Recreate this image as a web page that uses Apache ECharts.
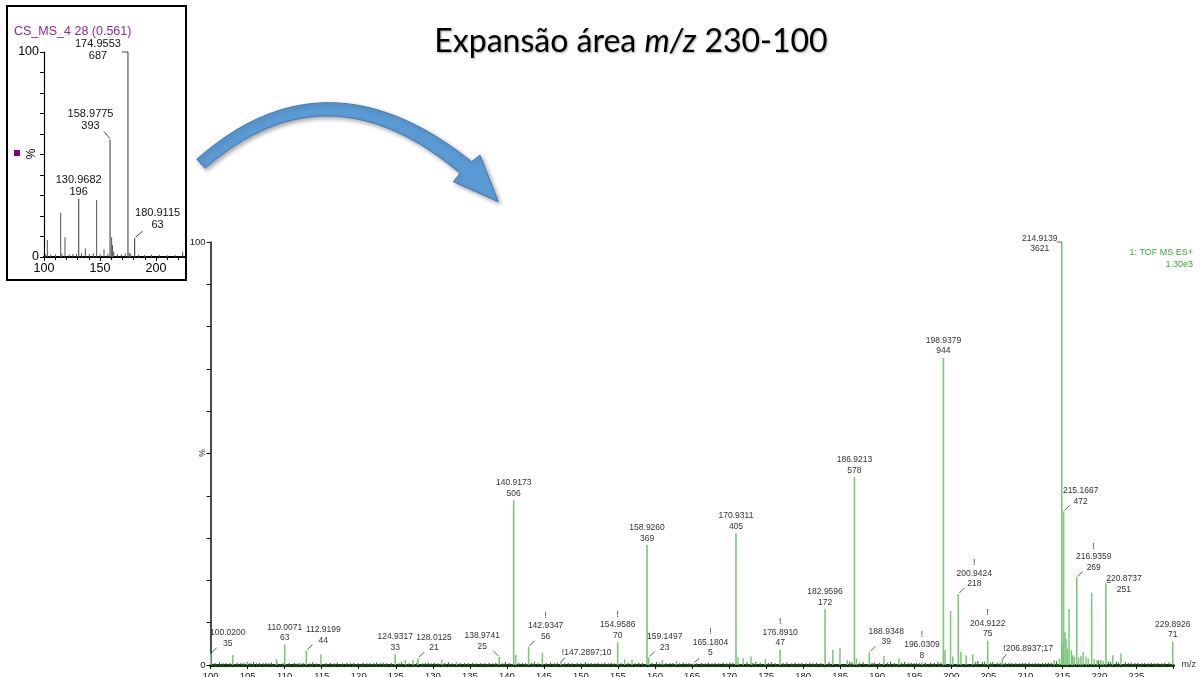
<!DOCTYPE html>
<html>
<head>
<meta charset="utf-8">
<script src="https://cdn.jsdelivr.net/npm/echarts@6/dist/echarts.min.js"></script>
<style>
  html, body { margin: 0; padding: 0; background: #fff; }
  #chart { width: 1200px; height: 677px; }
</style>
</head>
<body>
<div id="chart"></div>
<script>
// ---------- Expanded spectrum (m/z 100-230), intensities in counts ----------
const mainFullScale = 1300; // "1.30e3" = 100 %
const mainPeakMz = ['100.0200', '110.0071', '112.9199', '124.9317', '128.0125', '138.9741',
  '140.9173', '142.9347', '147.2897', '154.9586', '158.9260', '159.1497', '165.1804',
  '170.9311', '176.8910', '182.9596', '186.9213', '188.9348', '196.0309', '198.9379',
  '200.9424', '204.9122', '206.8937', '214.9139', '215.1667', '216.9359', '220.8737', '229.8926'];
const mainPeakIntensity = [35, 63, 44, 33, 21, 25, 506, 56, 10, 70, 369, 23, 5,
  405, 47, 172, 578, 39, 8, 944, 218, 75, 17, 3621, 472, 269, 251, 71];
const mainFlagged = ['142.9347', '154.9586', '165.1804', '176.8910', '196.0309',
  '200.9424', '204.9122', '216.9359'];

// unlabelled peaks of the expanded spectrum
const mainMinorMz = [103.0, 104.96, 108.9, 112.1, 114.9, 126.3, 127.3, 131.2, 133.2,
  141.2, 144.8, 155.9, 156.9, 161.0, 162.9, 171.2, 171.9, 172.96, 174.9,
  184.0, 184.97, 185.96, 187.2, 190.9, 192.94, 199.15, 199.9, 200.2, 201.3, 202.0, 202.9,
  213.9, 214.6, 215.05, 215.35, 215.5, 215.7, 215.9, 216.2, 216.4, 216.6, 217.2, 217.5,
  217.8, 218.2, 218.5, 218.95, 219.3, 219.7, 220.2, 220.5, 221.8, 222.9];
const mainMinorIntensity = [31, 10, 18, 8, 33, 15, 15, 16, 10,
  31, 38, 18, 16, 15, 12, 24, 21, 26, 18,
  46, 52, 15, 20, 28, 20, 46, 166, 26, 40, 30, 33,
  15, 20, 60, 102, 80, 50, 172, 45, 30, 25, 22, 28,
  40, 25, 20, 222, 18, 15, 15, 12, 30, 35];

// baseline grass of the expanded spectrum
const mainNoiseMz = [100.6, 101.2, 101.7, 102.1, 102.6, 103.6, 104.1, 104.5, 105.3, 105.8,
  106.2, 106.6, 107.1, 107.5, 107.9, 108.2, 109.0, 109.8, 110.6, 111.3, 111.8, 112.5,
  113.4, 113.8, 114.3, 115.6, 116.2, 116.7, 117.1, 117.8, 118.4, 118.9, 119.3, 119.9,
  120.6, 121.1, 121.5, 122.0, 122.4, 122.9, 123.3, 123.8, 124.4, 125.4, 125.8, 126.8,
  127.8, 128.6, 129.0, 129.4, 129.8, 130.2, 130.7, 131.6, 132.1, 132.6, 133.7, 134.3,
  134.8, 135.4, 135.9, 136.5, 137.0, 137.6, 138.1, 138.5, 139.4, 139.8, 140.3, 141.6,
  142.1, 142.5, 143.3, 143.7, 144.2, 145.3, 145.9, 146.4, 146.8, 147.8, 148.3, 148.8,
  149.5, 150.0, 150.6, 151.0, 151.4, 151.9, 152.3, 152.8, 153.2, 153.7, 154.1, 154.5,
  155.4, 156.4, 157.3, 157.8, 158.3, 159.6, 160.2, 160.6, 161.5, 162.0, 162.4, 163.3,
  163.8, 164.2, 164.6, 165.6, 166.3, 166.8, 167.2, 167.7, 168.1, 168.6, 169.2, 169.7,
  170.1, 170.5, 172.4, 173.2, 173.6, 174.2, 175.3, 175.7, 176.2, 177.3, 177.8, 178.4,
  178.9, 179.4, 179.8, 180.4, 180.9, 181.3, 181.8, 182.4, 183.5, 186.3, 186.6, 187.6,
  188.1, 189.3, 189.6, 190.3, 191.4, 191.8, 192.3, 193.3, 193.7, 194.2, 194.6, 195.0,
  195.3, 195.7, 196.5, 197.2, 197.7, 198.2, 198.6, 203.3, 203.6, 204.2, 204.5, 205.3,
  205.6, 206.2, 206.6, 207.3, 207.8, 208.2, 208.7, 209.2, 209.6, 210.0, 210.5, 211.0,
  211.4, 211.8, 212.3, 212.7, 213.1, 213.5, 214.2, 219.9, 221.2, 221.5, 222.3, 222.6,
  223.5, 223.9, 224.3, 224.8, 225.2, 225.7, 226.1, 226.6, 227.0, 227.5, 227.9, 228.4,
  228.8, 229.4];
const mainNoiseIntensity = [6, 8, 5, 6, 5, 6, 7, 5, 6, 9,
  5, 6, 5, 7, 5, 8, 6, 5, 6, 7, 5, 6,
  5, 9, 5, 6, 6, 5, 8, 5, 7, 5, 6, 5,
  7, 5, 6, 5, 8, 5, 7, 5, 6, 5, 9, 5,
  6, 5, 6, 8, 5, 7, 5, 6, 9, 5, 6, 6,
  5, 7, 5, 6, 5, 8, 5, 6, 5, 9, 6, 7,
  6, 5, 6, 10, 5, 6, 8, 5, 7, 5, 6, 5,
  7, 5, 9, 5, 6, 5, 7, 5, 8, 5, 7, 5,
  6, 6, 5, 8, 6, 7, 9, 5, 6, 5, 6, 5,
  8, 5, 6, 5, 7, 5, 8, 5, 6, 5, 7, 5,
  8, 6, 9, 6, 10, 7, 6, 9, 6, 6, 8, 5,
  7, 5, 6, 5, 8, 5, 7, 6, 9, 11, 8, 7,
  9, 6, 8, 6, 7, 10, 6, 7, 9, 6, 7, 5,
  6, 5, 7, 8, 6, 10, 7, 10, 12, 9, 10, 8,
  9, 8, 7, 6, 7, 6, 6, 5, 7, 6, 8, 5,
  6, 5, 7, 6, 8, 7, 12, 14, 11, 9, 10, 8,
  9, 7, 8, 6, 7, 5, 6, 5, 7, 5, 6, 5,
  6, 8];

const mainXTicks = { min: 100, max: 230, step: 5 };

// ---------- Survey spectrum "CS_MS_4 28 (0.561)" ----------
const insetFullScale = 687;
const insetPeakMz = ['130.9682', '158.9775', '174.9553', '180.9115'];
const insetPeakIntensity = [196, 393, 687, 63];
const insetMinorMz = [101.5, 103.0, 106.0, 110.2, 114.9, 116.0, 118.75, 122.5, 125.8,
  129.0, 133.5, 136.9, 140.5, 144.0, 147.0, 150.2, 153.6, 157.0, 160.4, 161.2, 162.3,
  165.5, 169.0, 172.5, 176.2, 177.5, 184.5, 190.0, 196.0, 203.0, 210.0, 217.0, 223.8];
const insetMinorIntensity = [10, 57, 8, 9, 148, 12, 66, 9, 10,
  11, 13, 29, 10, 12, 191, 9, 26, 11, 66, 40, 18,
  10, 9, 12, 14, 11, 8, 7, 8, 7, 6, 7, 18];

const FONT = '"Liberation Sans", Arial, Helvetica, sans-serif';
const MAIN_GREEN = '#7cc67c';
const GRASS_GREEN = '#2a7a2a';

// label placement around each peak top (offsets in px from the peak top)
const mainLabelLayout = {
  '100.0200': { dx: 17, dy: -5, leader: [1, -1, 6, -6] },
  '112.9199': { dx: 17, dy: -5, leader: [1, -1, 6, -6] },
  '128.0125': { dx: 16, dy: -5, leader: [1, -1, 6, -6] },
  '138.9741': { dx: -17, dy: -5, leader: [-1, -1, -6, -6] },
  '142.9347': { dx: 17, dy: -5, leader: [1, -1, 6, -6] },
  '147.2897': { inline: true, dx: 1, dy: -4, leader: [0, 0, 4, -4] },
  '159.1497': { dx: 16, dy: -5, leader: [1, -1, 6, -6] },
  '165.1804': { dx: 17, dy: -5, leader: [1, -1, 6, -5] },
  '188.9348': { dx: 17, dy: -5, leader: [1, -1, 6, -6] },
  '200.9424': { dx: 16, dy: -5, leader: [1, -1, 6, -6] },
  '206.8937': { inline: true, dx: 1, dy: -6, leader: [0, 0, 4, -5] },
  '214.9139': { dx: -22, dy: 12, leader: [-5, 0, 0, 0] },
  '215.1667': { dx: 17, dy: -5, leader: [1, -1, 6, -6] },
  '216.9359': { dx: 17, dy: -5, leader: [1, -1, 6, -6] },
  '220.8737': { dx: 18, dy: 11.5, leader: [1, -1, 5, -1] }
};
const insetLabelLayout = {
  '130.9682': { dx: 0, dy: -1 },
  '158.9775': { dx: -19.5, dy: -8, leader: [0, -1, -6, -8] },
  '174.9553': { dx: -30, dy: 10, leader: [-6, 0, 0, 0] },
  '180.9115': { dx: 23, dy: -7, leader: [1, -1, 8, -7] }
};

function stickRenderer(yMax, color, width) {
  return function (params, api) {
    const x = api.value(0);
    const a = api.coord([x, 0]);
    const b = api.coord([x, Math.min(api.value(1), yMax)]);
    return {
      type: 'line',
      shape: { x1: a[0], y1: a[1], x2: b[0], y2: b[1] },
      style: { stroke: color, lineWidth: width }
    };
  };
}

function labelRenderer(mzText, intensity, flagged, layout, yMax, txt) {
  return function (params, api) {
    const i = params.dataIndex;
    const key = mzText[i];
    const L = layout[key] || {};
    const p = api.coord([api.value(0), Math.min(api.value(1), yMax)]);
    const text = L.inline
      ? '!' + key + ';' + intensity[i]
      : (flagged.indexOf(key) >= 0 ? '!\n' : '') + key + '\n' + intensity[i];
    const children = [];
    if (L.leader) {
      children.push({
        type: 'line',
        shape: { x1: p[0] + L.leader[0], y1: p[1] + L.leader[1], x2: p[0] + L.leader[2], y2: p[1] + L.leader[3] },
        style: { stroke: txt.color, lineWidth: 0.8 }
      });
    }
    children.push({
      type: 'text',
      style: {
        text: text,
        x: p[0] + (L.dx || 0),
        y: p[1] + (L.dy == null ? -1.5 : L.dy),
        align: L.inline ? 'left' : 'center',
        verticalAlign: 'bottom',
        fill: txt.color,
        font: txt.size + 'px ' + FONT,
        lineHeight: txt.lh
      }
    });
    return { type: 'group', children: children };
  };
}

const pairs = (xs, ys) => xs.map((x, i) => [typeof x === 'string' ? parseFloat(x) : x, ys[i]]);

// curved arrow outline: two quadratic arcs joined by the arrow head
function quad(p0, c, p1, n) {
  const pts = [];
  for (let k = 0; k <= n; k++) {
    const t = k / n, u = 1 - t;
    pts.push([u * u * p0[0] + 2 * u * t * c[0] + t * t * p1[0], u * u * p0[1] + 2 * u * t * c[1] + t * t * p1[1]]);
  }
  return pts;
}
const arrowPoints = []
  .concat(quad([196.7, 159.3], [325.8, 44.9], [471.7, 161.7], 40))
  .concat([[480, 155], [498.3, 201.7], [453.3, 181.7]])
  .concat(quad([460, 173.3], [327.4, 61.2], [205, 168.3], 40));

const chart = echarts.init(document.getElementById('chart'), null, { renderer: 'canvas' });

chart.setOption({
  animation: false,
  backgroundColor: '#ffffff',
  grid: [
    { left: 210.6, right: 26.5, top: 242, bottom: 12, containLabel: false, outerBoundsMode: 'none' },
    { left: 44, right: 1014, top: 52, bottom: 420, containLabel: false, outerBoundsMode: 'none' }
  ],
  xAxis: [
    {
      gridIndex: 0, type: 'value', min: mainXTicks.min, max: mainXTicks.max, interval: mainXTicks.step,
      name: 'm/z', nameLocation: 'end', nameGap: 8,
      nameTextStyle: { fontFamily: FONT, fontSize: 9, color: '#333', verticalAlign: 'middle' },
      axisLine: { show: true, onZero: false, lineStyle: { color: '#173f17', width: 3 } },
      axisTick: { show: true, length: 4, lineStyle: { color: '#111' } },
      minorTick: { show: true, splitNumber: 5, length: 2, lineStyle: { color: '#111' } },
      splitLine: { show: false },
      axisLabel: { fontFamily: FONT, fontSize: 9.5, color: '#222', margin: 6,
        formatter: v => (v === mainXTicks.max ? '' : String(v)) }
    },
    {
      gridIndex: 1, type: 'value', min: 100, max: 226.8, interval: 50,
      axisLine: { show: true, onZero: false, lineStyle: { color: '#000', width: 2 } },
      axisTick: { show: true, length: 4, lineStyle: { color: '#000' } },
      minorTick: { show: true, splitNumber: 5, length: 3, lineStyle: { color: '#000' } },
      splitLine: { show: false },
      axisLabel: { fontFamily: FONT, fontSize: 12.5, color: '#000', margin: 5, showMaxLabel: false }
    }
  ],
  yAxis: [
    {
      gridIndex: 0, type: 'value', min: 0, max: mainFullScale, interval: mainFullScale / 10,
      axisLine: { show: true, lineStyle: { color: '#111', width: 1.5 } },
      axisTick: { show: true, length: 4, lineStyle: { color: '#111' } },
      splitLine: { show: false },
      axisLabel: { fontFamily: FONT, fontSize: 9.5, color: '#222', margin: 5,
        formatter: v => (v === 0 ? '0' : v === mainFullScale ? '100' : '') }
    },
    {
      gridIndex: 1, type: 'value', min: 0, max: insetFullScale, interval: insetFullScale / 10,
      axisLine: { show: true, lineStyle: { color: '#000', width: 1.2 } },
      axisTick: { show: true, length: 4, lineStyle: { color: '#000' } },
      splitLine: { show: false },
      axisLabel: { fontFamily: FONT, fontSize: 12.5, color: '#000', margin: 5,
        formatter: v => (v < 1 ? '0' : v > insetFullScale - 1 ? '100' : '') }
    }
  ],
  graphic: [
    // survey spectrum frame
    { type: 'rect', z: 0, shape: { x: 7, y: 6, width: 179, height: 274 },
      style: { fill: 'none', stroke: '#000', lineWidth: 2 } },
    { type: 'text', z: 5, style: { text: 'CS_MS_4 28 (0.561)', x: 14, y: 32, verticalAlign: 'middle',
      font: '12.5px ' + FONT, fill: '#8e2a8e' } },
    { type: 'rect', z: 5, shape: { x: 14, y: 150, width: 6, height: 6 }, style: { fill: '#800080' } },
    { type: 'text', z: 5, x: 32, y: 154, rotation: Math.PI / 2,
      style: { text: '%', x: 0, y: 0, align: 'center', verticalAlign: 'middle', font: '12px ' + FONT, fill: '#000' } },
    // intensity axis title of the expanded spectrum
    { type: 'text', z: 5, x: 203, y: 453, rotation: Math.PI / 2,
      style: { text: '%', x: 0, y: 0, align: 'center', verticalAlign: 'middle', font: '8.5px ' + FONT, fill: '#333' } },
    // curved arrow
    { type: 'polygon', z: 5, shape: { points: arrowPoints },
      style: { fill: '#5b9bd5', stroke: '#4678b0', lineWidth: 1,
        shadowBlur: 4, shadowOffsetX: 2, shadowOffsetY: 2, shadowColor: 'rgba(0,0,0,0.35)' } },
    // heading
    { type: 'text', z: 5, style: {
      text: '{a|Expansão área }{i|m/z}{a| 230-100}', x: 631, y: 42, align: 'center', verticalAlign: 'middle',
      rich: {
        a: { fontFamily: 'Lato, "Open Sans", sans-serif', fontSize: 32, color: '#111',
          textShadowColor: 'rgba(0,0,0,0.35)', textShadowBlur: 2, textShadowOffsetX: 1, textShadowOffsetY: 1 },
        i: { fontFamily: 'Lato, "Open Sans", sans-serif', fontSize: 32, fontStyle: 'italic', color: '#111',
          textShadowColor: 'rgba(0,0,0,0.35)', textShadowBlur: 2, textShadowOffsetX: 1, textShadowOffsetY: 1 }
      } } },
    // acquisition info
    { type: 'text', z: 5, style: { text: '1: TOF MS ES+', x: 1193, y: 253, align: 'right', verticalAlign: 'middle',
      font: '9px ' + FONT, fill: '#3aa83a' } },
    { type: 'text', z: 5, style: { text: '1.30e3', x: 1193, y: 265, align: 'right', verticalAlign: 'middle',
      font: '9px ' + FONT, fill: '#3aa83a' } }
  ],
  series: [
    { type: 'custom', xAxisIndex: 0, yAxisIndex: 0, z: 2,
      data: pairs(mainNoiseMz, mainNoiseIntensity), renderItem: stickRenderer(mainFullScale, GRASS_GREEN, 1.1) },
    { type: 'custom', xAxisIndex: 0, yAxisIndex: 0, z: 3,
      data: pairs(mainMinorMz, mainMinorIntensity), renderItem: stickRenderer(mainFullScale, MAIN_GREEN, 1.5) },
    { type: 'custom', xAxisIndex: 0, yAxisIndex: 0, z: 3,
      data: pairs(mainPeakMz, mainPeakIntensity), renderItem: stickRenderer(mainFullScale, MAIN_GREEN, 1.6) },
    { type: 'custom', xAxisIndex: 0, yAxisIndex: 0, z: 4,
      data: pairs(mainPeakMz, mainPeakIntensity),
      renderItem: labelRenderer(mainPeakMz, mainPeakIntensity, mainFlagged, mainLabelLayout, mainFullScale,
        { color: '#333', size: 8.5, lh: 10.5 }) },
    { type: 'custom', xAxisIndex: 1, yAxisIndex: 1, z: 3,
      data: pairs(insetMinorMz, insetMinorIntensity), renderItem: stickRenderer(insetFullScale, '#555', 1) },
    { type: 'custom', xAxisIndex: 1, yAxisIndex: 1, z: 3,
      data: pairs(insetPeakMz, insetPeakIntensity), renderItem: stickRenderer(insetFullScale, '#555', 1.2) },
    { type: 'custom', xAxisIndex: 1, yAxisIndex: 1, z: 4,
      data: pairs(insetPeakMz, insetPeakIntensity),
      renderItem: labelRenderer(insetPeakMz, insetPeakIntensity, [], insetLabelLayout, insetFullScale,
        { color: '#111', size: 11, lh: 12 }) }
  ]
});
</script>
</body>
</html>
